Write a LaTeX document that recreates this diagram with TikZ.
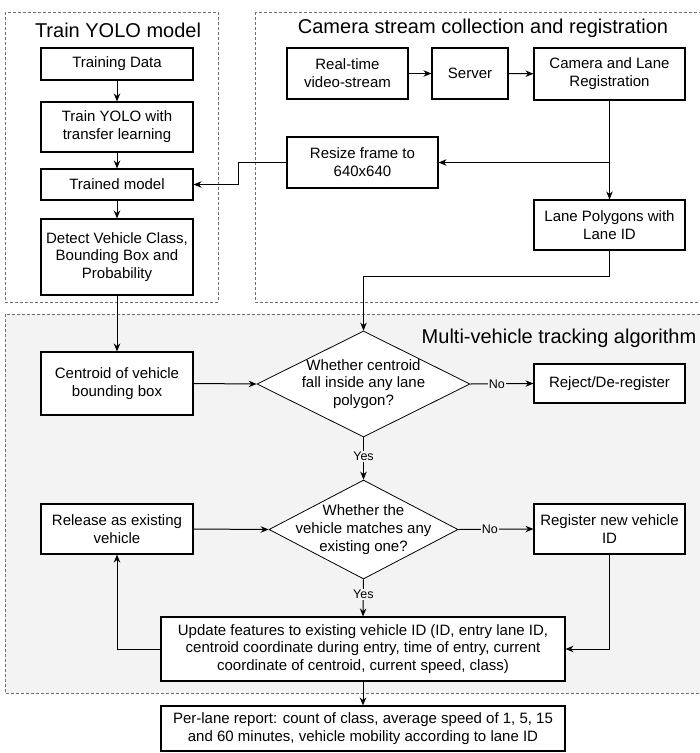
\documentclass[tikz,border=0pt]{standalone}
\usepackage{fontspec}
\setmainfont{Liberation Sans}
\usetikzlibrary{shapes.geometric,arrows.meta}
\definecolor{grayfill}{HTML}{F3F3F3}
\definecolor{dashgray}{HTML}{707070}
\begin{document}
\begin{tikzpicture}[x=1pt,y=-1pt,
 box/.style={draw, line width=1.1pt, fill=white, align=center, inner sep=1pt, font=\fontsize{15}{17.8}\selectfont},
 dia/.style={draw, shape=diamond, line width=0.8pt, fill=white, align=center, inner sep=-16pt, aspect=2, font=\fontsize{15}{17.8}\selectfont},
 con/.style={line width=1pt, -{Stealth[length=8pt,width=6.5pt]}},
 lbl/.style={font=\fontsize{12.5}{14}\selectfont, fill=grayfill, inner sep=1pt},
 group/.style={draw=dashgray, line width=0.8pt, dash pattern=on 3pt off 2pt},
 title/.style={font=\fontsize{20}{24}\selectfont, inner sep=0pt}]
\useasboundingbox (0,0) rectangle (700,753);

% group frames
\fill[grayfill] (5,314) rectangle (706,693);
\draw[group] (5,314) rectangle (706,693);
\draw[group] (5,12) rectangle (218,302);
\draw[group] (255,12) rectangle (706,302);

\node[title] (t1) at (118,30) {Train YOLO model};
\node[title] (t2) at (483,28) {Camera stream collection and registration};
\node[title] (t3) at (559,338) {Multi-vehicle tracking algorithm};

% Train YOLO
\node[box, minimum width=152, minimum height=32] (tdata) at (117,64) {Training Data};
\node[box, minimum width=152, minimum height=50] (tyolo) at (117,127) {Train YOLO with\\transfer learning};
\node[box, minimum width=152, minimum height=31] (tmodel) at (117,184.5) {Trained model};
\node[box, minimum width=152, minimum height=76] (detect) at (117,257) {Detect Vehicle Class,\\Bounding Box and\\Probability};

% Camera
\node[box, minimum width=121, minimum height=51] (rt) at (347.5,73.5) {Real-time\\video-stream};
\node[box, minimum width=76, minimum height=51] (server) at (470,73.5) {Server};
\node[box, minimum width=151, minimum height=52] (camreg) at (609.5,74) {Camera and Lane\\Registration};
\node[box, minimum width=151, minimum height=51] (resize) at (362.5,162.5) {Resize frame to\\640x640};
\node[box, minimum width=151, minimum height=50] (lanepoly) at (609.5,225) {Lane Polygons with\\Lane ID};

% Tracking
\node[box, minimum width=152, minimum height=63] (centroid) at (117,383.5) {Centroid of vehicle\\bounding box};
\node[dia, minimum width=213, minimum height=106] (d1) at (363.5,384) {Whether centroid\\fall inside any lane\\polygon?};
\node[box, minimum width=151, minimum height=39] (reject) at (609.5,383.5) {Reject/De-register};
\node[box, minimum width=152, minimum height=50] (release) at (117,529) {Release as existing\\vehicle};
\node[dia, minimum width=189, minimum height=99] (d2) at (363.5,529.5) {Whether the\\vehicle matches any\\existing one?};
\node[box, minimum width=151, minimum height=50] (register) at (609.5,529) {Register new vehicle\\ID};
\node[box, minimum width=404, minimum height=64] (update) at (363,649) {Update features to existing vehicle ID (ID, entry lane ID,\\centroid coordinate during entry, time of entry, current\\coordinate of centroid, current speed, class)};
\node[box, minimum width=404, minimum height=45] (perlane) at (363,728.5) {Per-lane report: count of class, average speed of 1, 5, 15\\and 60 minutes, vehicle mobility according to lane ID};

% helper coordinates
\coordinate (br) at (609.5,162.5);
\coordinate (rz1) at (238,162.5);
\coordinate (rz2) at (238,184.5);
\coordinate (lp1) at (609.5,276);
\coordinate (lp2) at (363.5,276);
\coordinate (rg1) at (609.5,649);
\coordinate (up1) at (117,649);

% connectors
\draw[con] (tdata) -- (tyolo);
\draw[con] (tyolo) -- (tmodel);
\draw[con] (tmodel) -- (detect);
\draw[con] (detect) -- (centroid);
\draw[con] (rt) -- (server);
\draw[con] (server) -- (camreg);
\draw[con] (camreg) -- (lanepoly);
\draw[con] (br) -- (resize.east);
\draw[con] (resize.west) -- (rz1) -- (rz2) -- (tmodel.east);
\draw[con] (lanepoly.south) -- (lp1) -- (lp2) -- (d1.north);
\draw[con] (centroid.east) -- (d1.west);
\draw[con] (d1.east) -- node[lbl, pos=0.42] (no1) {No} (reject.west);
\draw[con] (d1.south) -- node[lbl, pos=0.45] (yes1) {Yes} (d2.north);
\draw[con] (release.east) -- (d2.west);
\draw[con] (d2.east) -- node[lbl, pos=0.42] (no2) {No} (register.west);
\draw[con] (d2.south) -- node[lbl, pos=0.4] (yes2) {Yes} (update.north);
\draw[con] (register.south) -- (rg1) -- (update.east);
\draw[con] (update.west) -- (up1) -- (release.south);
\draw[con] (update.south) -- (perlane.north);
\end{tikzpicture}
\end{document}
